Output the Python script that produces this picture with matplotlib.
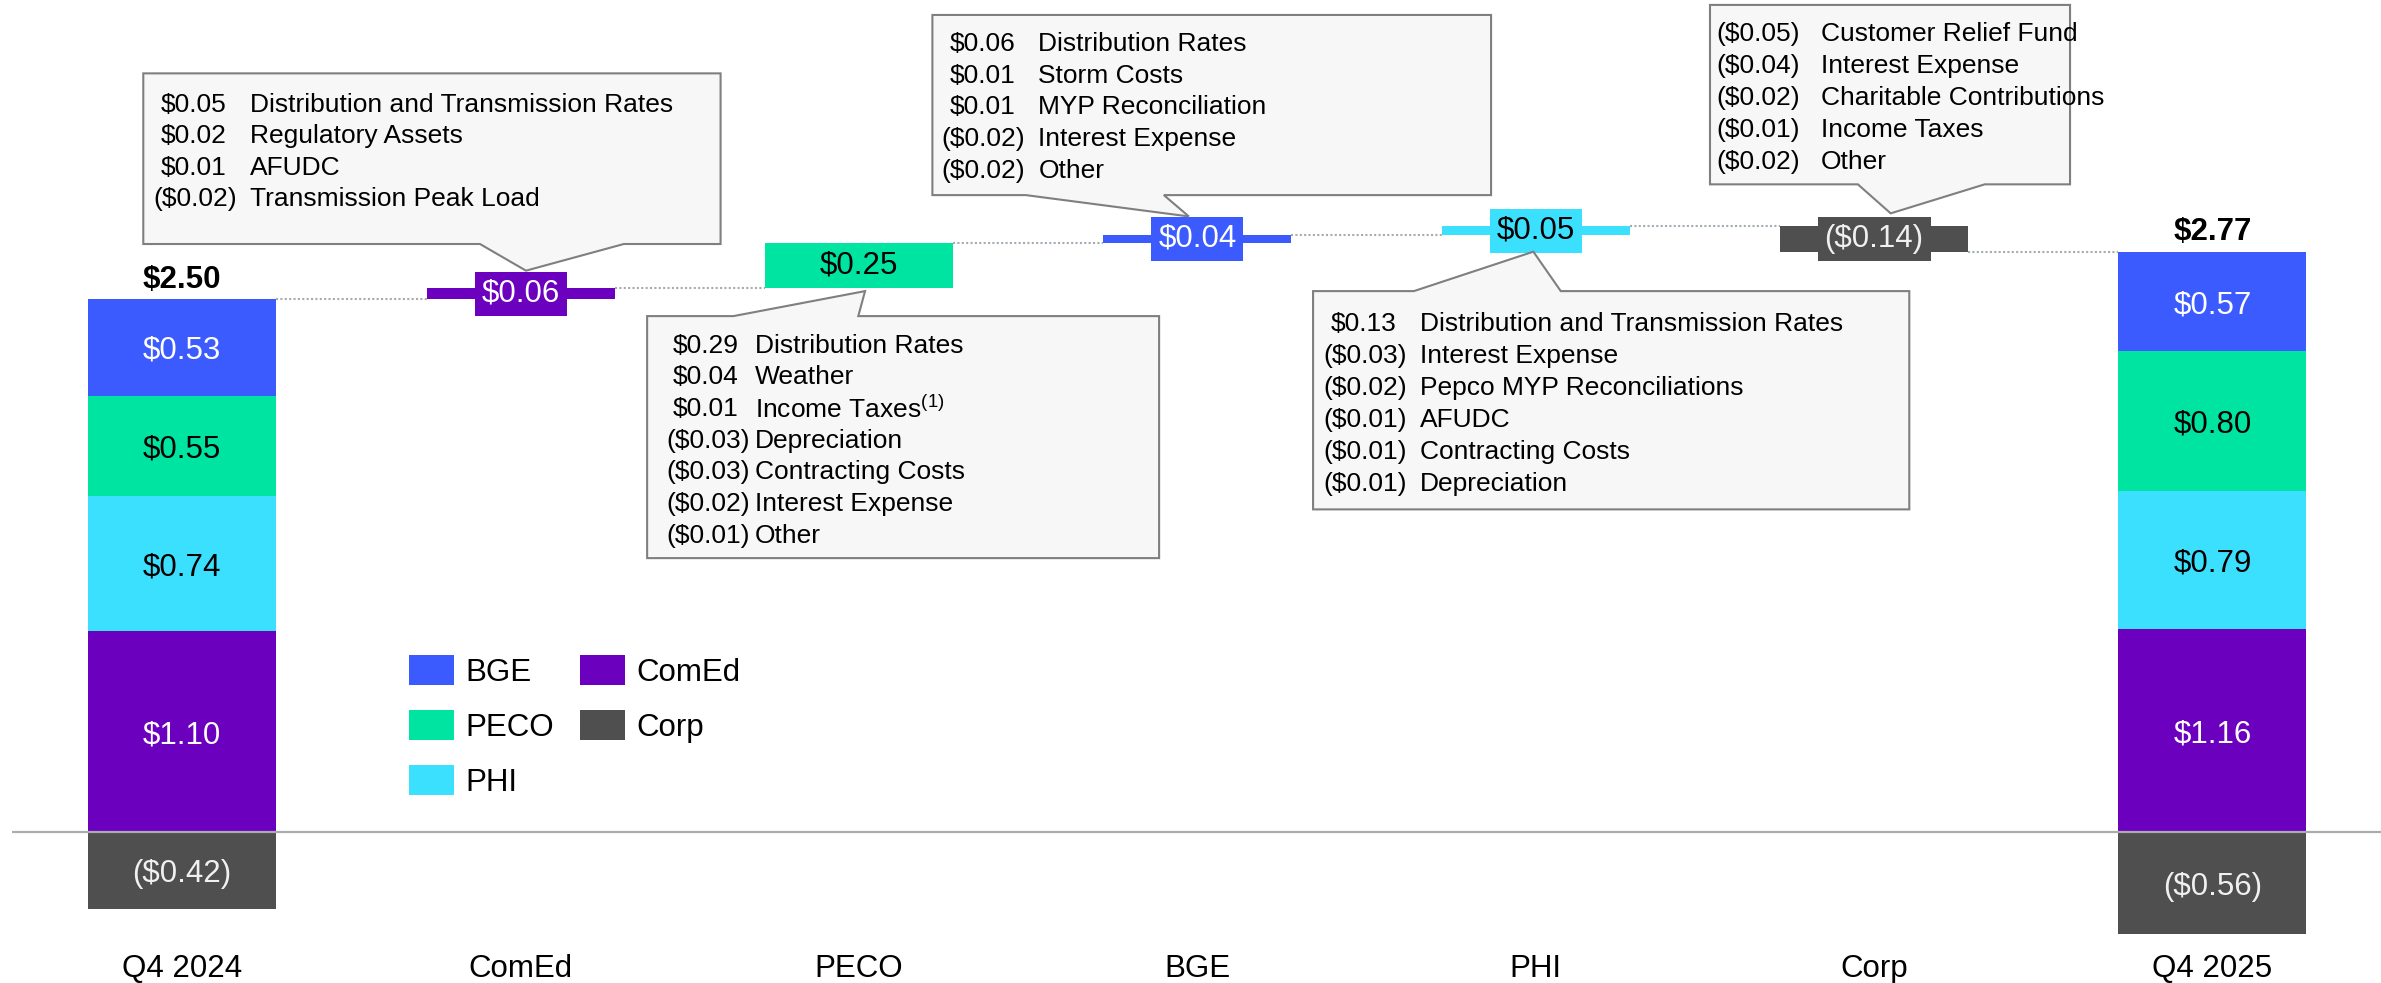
import matplotlib
matplotlib.use("Agg")
import matplotlib.pyplot as plt
from matplotlib.patches import Polygon, Patch

plt.rcParams['font.family'] = ['Liberation Sans', 'DejaVu Sans']
plt.rcParams['mathtext.fontset'] = 'custom'
plt.rcParams['mathtext.rm'] = 'Liberation Sans'

# ---------------- data ----------------
categories = ["Q4 2024", "ComEd", "PECO", "BGE", "PHI", "Corp", "Q4 2025"]
stack_order = ["ComEd", "PHI", "PECO", "BGE"]          # positive segments, bottom-up
q4_2024_values = [1.10, 0.74, 0.55, 0.53]
q4_2025_values = [1.16, 0.79, 0.80, 0.57]
q4_2024_corp = -0.42
q4_2025_corp = -0.56
totals = [2.50, 2.77]
delta_names = ["ComEd", "PECO", "BGE", "PHI", "Corp"]
delta_values = [0.06, 0.25, 0.04, 0.05, -0.14]

comed_driver_values = [0.05, 0.02, 0.01, -0.02]
comed_driver_labels = ["Distribution and Transmission Rates", "Regulatory Assets", "AFUDC",
                       "Transmission Peak Load"]
peco_driver_values = [0.29, 0.04, 0.01, -0.03, -0.03, -0.02, -0.01]
peco_driver_labels = ["Distribution Rates", "Weather", r"Income Taxes$^{\rm (1)}$", "Depreciation",
                      "Contracting Costs", "Interest Expense", "Other"]
bge_driver_values = [0.06, 0.01, 0.01, -0.02, -0.02]
bge_driver_labels = ["Distribution Rates", "Storm Costs", "MYP Reconciliation", "Interest Expense", "Other"]
phi_driver_values = [0.13, -0.03, -0.02, -0.01, -0.01, -0.01]
phi_driver_labels = ["Distribution and Transmission Rates", "Interest Expense", "Pepco MYP Reconciliations",
                     "AFUDC", "Contracting Costs", "Depreciation"]
corp_driver_values = [-0.05, -0.04, -0.02, -0.01, -0.02]
corp_driver_labels = ["Customer Relief Fund", "Interest Expense", "Charitable Contributions",
                      "Income Taxes", "Other"]

# ---------------- style ----------------
colors = {"BGE": "#3b5bff", "PECO": "#00e4a2", "PHI": "#3ce0ff", "ComEd": "#6b00be", "Corp": "#4f4f4f"}
text_colors = {"BGE": "white", "PECO": "black", "PHI": "black", "ComEd": "white", "Corp": "#f0f0f0"}
legend_order = ["BGE", "PECO", "PHI", "ComEd", "Corp"]
W = 0.5556
FS = 22.5
CFS = 19
conn_color = "#a3abb3"
VA = "center_baseline"


def fmt(v):
    return f"${v:.2f}" if v >= 0 else f"(${-v:.2f})"


fig = plt.figure(figsize=(23.81, 9.83), dpi=100)
ax = fig.add_axes([12 / 2381, 0, 1 - 12 / 2381, 1])
ax.set_xlim(-0.503, 6.498)
ax.set_ylim(-0.827, 4.559)
ax.axis("off")


def stacked(x, values, corp, scale=1.0):
    bottom = 0.0
    for name, v in zip(stack_order, values):
        h = v * scale
        ax.bar(x, h, bottom=bottom, width=W, color=colors[name], zorder=2)
        ax.text(x, bottom + h / 2, fmt(v), ha="center", va=VA, fontsize=FS,
                color=text_colors[name], zorder=4)
        bottom += h
    ax.bar(x, corp, bottom=0, width=W, color=colors["Corp"], zorder=2)
    ax.text(x, corp / 2, fmt(corp), ha="center", va=VA, fontsize=FS,
            color=text_colors["Corp"], zorder=4)
    return bottom


top0 = stacked(0, q4_2024_values, q4_2024_corp)
ax.text(0, top0 + 0.125, fmt(totals[0]), ha="center", va=VA, fontsize=FS,
        fontweight="bold", zorder=4)

level = top0
prev_right = 0 + W / 2
for i, (name, d) in enumerate(zip(delta_names, delta_values)):
    x = i + 1
    ax.plot([prev_right, x - W / 2], [level, level], color=conn_color, lw=1.5,
            linestyle=(0, (1, 1.1)), zorder=1)
    ax.bar(x, d, bottom=level, width=W, color=colors[name], zorder=2)
    ax.text(x, level + d / 2, fmt(d), ha="center", va="center", fontsize=FS,
            color=text_colors[name], zorder=4,
            bbox=dict(boxstyle="square,pad=0.22", facecolor=colors[name], edgecolor="none"))
    level += d
    prev_right = x + W / 2
ax.plot([prev_right, 6 - W / 2], [level, level], color=conn_color, lw=1.5,
        linestyle=(0, (1, 1.1)), zorder=1)

scale25 = level / sum(q4_2025_values)
top6 = stacked(6, q4_2025_values, q4_2025_corp, scale25)
ax.text(6, top6 + 0.128, fmt(totals[1]), ha="center", va=VA, fontsize=FS,
        fontweight="bold", zorder=4)

ax.axhline(0, color="#a8adb2", lw=1.6, zorder=3)

for i, c in enumerate(categories):
    ax.text(i, -0.729, c, ha="center", va=VA, fontsize=FS)

# ---------------- callouts ----------------
callouts = [
    dict(box=(-0.115, 1.591, 3.222, 4.157), side="bottom", base=(0.880, 1.305), tip=(1.016, 3.076),
         row0=3.998, step=0.1725, xpos=-0.064, xneg=-0.084, xdesc=0.199,
         vals=comed_driver_values, labs=comed_driver_labels),
    dict(box=(1.374, 2.887, 1.501, 2.827), side="top", base=(1.629, 1.998), tip=(2.018, 2.964),
         row0=2.678, step=0.1735, xpos=1.449, xneg=1.430, xdesc=1.693,
         vals=peco_driver_values, labs=peco_driver_labels),
    dict(box=(2.217, 3.868, 3.490, 4.477), side="bottom", base=(2.493, 2.901), tip=(2.975, 3.373),
         row0=4.330, step=0.173, xpos=2.268, xneg=2.245, xdesc=2.530,
         vals=bge_driver_values, labs=bge_driver_labels),
    dict(box=(3.342, 5.104, 1.768, 2.964), side="top", base=(3.640, 4.074), tip=(3.993, 3.180),
         row0=2.796, step=0.1755, xpos=3.395, xneg=3.373, xdesc=3.658,
         vals=phi_driver_values, labs=phi_driver_labels),
    dict(box=(4.515, 5.579, 3.549, 4.532), side="bottom", base=(4.952, 5.327), tip=(5.049, 3.390),
         row0=4.385, step=0.1745, xpos=4.555, xneg=4.535, xdesc=4.843,
         vals=corp_driver_values, labs=corp_driver_labels),
]

for c in callouts:
    x0, x1, y0, y1 = c["box"]
    bl, br = c["base"]
    tx, ty = c["tip"]
    if c["side"] == "bottom":
        pts = [(x0, y1), (x1, y1), (x1, y0), (br, y0), (tx, ty), (bl, y0), (x0, y0)]
    else:
        pts = [(x0, y0), (x0, y1), (bl, y1), (tx, ty), (br, y1), (x1, y1), (x1, y0)]
    ax.add_patch(Polygon(pts, closed=True, facecolor="#f7f7f7", edgecolor="#7f7f7f",
                         lw=1.5, zorder=5))
    for k, (v, lab) in enumerate(zip(c["vals"], c["labs"])):
        y = c["row0"] - k * c["step"]
        ax.text(c["xpos"] if v >= 0 else c["xneg"], y, fmt(v), ha="left", va=VA,
                fontsize=CFS, zorder=6)
        ax.text(c["xdesc"], y, lab, ha="left", va=VA, fontsize=CFS, zorder=6)

# ---------------- legend ----------------
handles = [Patch(facecolor=colors[n], edgecolor="none", label=n) for n in legend_order]
ax.legend(handles=handles, ncol=2, loc="upper left", frameon=False, fontsize=FS,
          bbox_to_anchor=(409 / 2381, 1 - 655 / 983), bbox_transform=fig.transFigure,
          borderpad=0, borderaxespad=0, handlelength=1.45, handleheight=1.09,
          labelspacing=0.72, handletextpad=0.37, columnspacing=0.8)

fig.savefig("out.png", dpi=100)
